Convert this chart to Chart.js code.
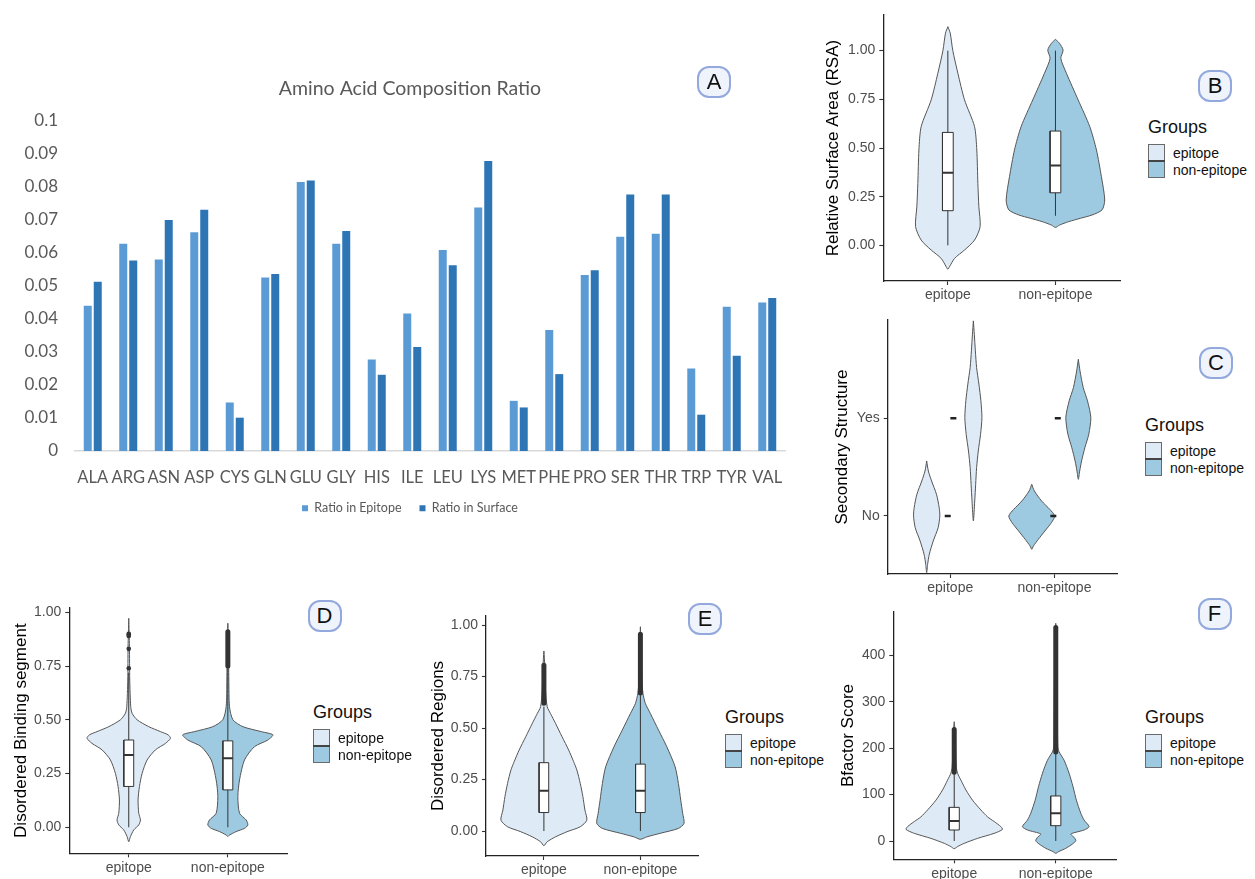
<!DOCTYPE html>
<html>
<head>
<meta charset="utf-8">
<script src="https://cdn.jsdelivr.net/npm/chart.js@4.4.1/dist/chart.umd.min.js"></script>
<style>
  body { margin:0; width:1255px; height:879px; position:relative; overflow:hidden; background:#fff; font-family:"Liberation Sans", Arial, sans-serif; }
  canvas { position:absolute; }
  .tag { position:absolute; width:30px; height:28px; border:2.5px solid #93a8dc; border-radius:12px; background:#eef3fc; color:#111; font-size:22px; line-height:28px; text-align:center; }
  .grp { position:absolute; color:#111; }
  .grp div { position:absolute; white-space:nowrap; }
</style>
</head>
<body>
<canvas id="cA"></canvas>
<canvas id="cB"></canvas>
<canvas id="cC"></canvas>
<canvas id="cD"></canvas>
<canvas id="cE"></canvas>
<canvas id="cF"></canvas>
<script>
// ---- panel A: amino acid composition
const AMINO = ['ALA','ARG','ASN','ASP','CYS','GLN','GLU','GLY','HIS','ILE','LEU','LYS','MET','PHE','PRO','SER','THR','TRP','TYR','VAL'];
const EPITOPE_RATIO = [0.0440,0.0628,0.0580,0.0663,0.0147,0.0526,0.0815,0.0628,0.0277,0.0417,0.0609,0.0738,0.0152,0.0367,0.0533,0.0649,0.0658,0.0250,0.0437,0.0450];
const SURFACE_RATIO = [0.0513,0.0577,0.0700,0.0731,0.0101,0.0536,0.0820,0.0667,0.0231,0.0315,0.0563,0.0879,0.0132,0.0233,0.0548,0.0777,0.0777,0.0110,0.0289,0.0464];

const GROUPS = ['epitope', 'non-epitope'];
const FILL_EPI = '#deebf7', FILL_NON = '#9ecae1';

// ---- panel B: relative surface area (violin outline: levels + half widths)
const RSA_EPI_Y = [1.123,1.09,1.00,0.884,0.747,0.61,0.49,0.318,0.2,0.096,0.027,-0.024,-0.067,-0.11,-0.123];
const RSA_EPI_W = [0,0.022,0.046,0.093,0.155,0.248,0.269,0.279,0.288,0.300,0.248,0.155,0.062,0.015,0];
const RSA_NON_Y = [1.058,1.038,1.003,0.96,0.884,0.747,0.61,0.49,0.353,0.233,0.182,0.156,0.139,0.122,0.104,0.092];
const RSA_NON_W = [0,0.037,0.071,0.05,0.102,0.211,0.319,0.381,0.427,0.458,0.433,0.340,0.232,0.124,0.037,0];
const RSA_BOX_EPI = [0, 0.178, 0.373, 0.58, 1.0];
const RSA_BOX_NON = [0.152, 0.27, 0.41, 0.587, 1.0];

// ---- panel C: secondary structure (No = 1, Yes = 2)
const SS_EPI_NO_Y = [1.563,1.46,1.358,1.222,1.085,1.0,0.88,0.744,0.608,0.505,0.42];
const SS_EPI_NO_W = [0,0.016,0.047,0.094,0.12,0.126,0.11,0.063,0.025,0.009,0];
const SS_EPI_YES_Y = [2.997,2.86,2.69,2.52,2.35,2.18,2.007,1.836,1.665,1.495,1.324,1.154,0.95];
const SS_EPI_YES_W = [0,0.009,0.019,0.031,0.053,0.072,0.082,0.069,0.047,0.031,0.022,0.013,0];
const SS_NON_NO_Y = [1.324,1.256,1.154,1.068,1.0,0.932,0.846,0.761,0.693,0.659];
const SS_NON_NO_W = [0,0.025,0.094,0.173,0.22,0.189,0.126,0.063,0.016,0];
const SS_NON_YES_Y = [2.604,2.485,2.314,2.178,2.007,1.836,1.70,1.563,1.46,1.375];
const SS_NON_YES_W = [0,0.016,0.047,0.088,0.12,0.1,0.063,0.031,0.013,0];
const SS_VIOLIN_X = [0.774, 1.222, 1.782, 2.229];
const SS_MEDIAN_X = [0.976, 1.03, 1.989, 2.032];
const SS_MEDIAN_Y = [1, 2, 1, 2];

// ---- panel D: disordered binding segment
const DBS_EPI_Y = [0.972,0.84,0.685,0.561,0.53,0.5,0.468,0.445,0.43,0.414,0.39,0.36,0.313,0.251,0.19,0.127,0.065,0.034,0.011,-0.012,-0.043,-0.067];
const DBS_EPI_W = [0,0.007,0.010,0.020,0.034,0.084,0.202,0.32,0.397,0.421,0.37,0.269,0.185,0.135,0.108,0.094,0.101,0.118,0.101,0.051,0.017,0];
const DBS_NON_Y = [0.949,0.84,0.685,0.561,0.5,0.468,0.445,0.43,0.406,0.375,0.313,0.22,0.143,0.065,0.034,0.011,-0.005,-0.02,-0.036,-0.043];
const DBS_NON_W = [0,0.007,0.010,0.017,0.051,0.152,0.337,0.455,0.404,0.269,0.168,0.118,0.101,0.118,0.185,0.202,0.168,0.084,0.017,0];
const DBS_BOX_EPI = [0, 0.19, 0.336, 0.406, 0.72];
const DBS_BOX_NON = [0, 0.174, 0.321, 0.402, 0.74];
const DBS_OUT_EPI = [0.74, 0.83, 0.89, 0.895, 0.9];
const DBS_BAND_NON = [0.75, 0.91];

// ---- panel E: disordered regions
const DR_EPI_Y = [0.874,0.798,0.684,0.604,0.571,0.523,0.458,0.393,0.337,0.296,0.231,0.167,0.102,0.053,0.021,-0.003,-0.028,-0.052,-0.071];
const DR_EPI_W = [0,0.010,0.017,0.034,0.068,0.12,0.188,0.257,0.308,0.342,0.377,0.404,0.425,0.445,0.377,0.24,0.12,0.034,0];
const DR_NON_Y = [0.992,0.895,0.733,0.668,0.62,0.571,0.49,0.409,0.312,0.231,0.15,0.086,0.037,0.013,-0.011,-0.028,-0.04];
const DR_NON_W = [0,0.007,0.014,0.027,0.051,0.103,0.188,0.274,0.36,0.394,0.418,0.438,0.452,0.394,0.205,0.068,0];
const DR_BOX_EPI = [0, 0.09, 0.196, 0.332, 0.604];
const DR_BOX_NON = [0, 0.09, 0.196, 0.325, 0.66];
const DR_BAND_EPI = [0.62, 0.805];
const DR_BAND_NON = [0.67, 0.955];

// ---- panel F: B-factor
const BF_EPI_Y = [257,239,203,160,146,131,110,88,67,52,42,31,25,16.5,5.7,-5,-12,-16.5];
const BF_EPI_W = [0,0.007,0.013,0.020,0.033,0.066,0.115,0.18,0.262,0.328,0.393,0.459,0.475,0.393,0.23,0.098,0.033,0];
const BF_NON_Y = [469,419,347,275,203,192,174,146,117,88,60,45,31,23.7,15.1,7.9,0.7,-6.5,-15.8,-23,-26.6];
const BF_NON_W = [0,0.010,0.013,0.016,0.020,0.033,0.082,0.131,0.17,0.203,0.246,0.279,0.328,0.279,0.148,0.18,0.197,0.164,0.098,0.026,0];
const BF_BOX_EPI = [0, 23.7, 43, 72.5, 146];
const BF_BOX_NON = [0, 33, 59.6, 97, 190];
const BF_BAND_EPI = [148, 240];
const BF_BAND_NON = [192, 460];

Chart.defaults.font.family = '"Liberation Sans", Arial, sans-serif';

function place(id, b) {
  const cv = document.getElementById(id);
  cv.width = b.w; cv.height = b.h;
  cv.style.left = b.x + 'px'; cv.style.top = b.y + 'px';
  return cv;
}

// panel A
new Chart(place('cA', {x:15, y:60, w:799, h:470}), {
  type: 'bar',
  data: { labels: AMINO, datasets: [
    { label: 'Ratio in Epitope', data: EPITOPE_RATIO, backgroundColor: '#5b9bd5', categoryPercentage: 0.563, barPercentage: 0.8 },
    { label: 'Ratio in Surface', data: SURFACE_RATIO, backgroundColor: '#2e75b6', categoryPercentage: 0.563, barPercentage: 0.8 }
  ] },
  options: {
    responsive: false, animation: false,
    layout: { padding: { left: 0, right: 9, top: 0, bottom: 5.5 } },
    plugins: {
      title: { display: true, text: 'Amino Acid Composition Ratio', color: '#595959',
               font: { family: 'Lato', size: 19.5, weight: 'normal' }, padding: { top: 17.3, bottom: 20.3 } },
      legend: { position: 'bottom', labels: { boxWidth: 6, boxHeight: 6, padding: 18, color: '#595959',
                font: { family: 'Lato', size: 12.5 } } },
      tooltip: { enabled: false }
    },
    scales: {
      x: { grid: { display: false, drawTicks: false }, border: { color: '#d9d9d9', width: 1.5 },
           ticks: { color: '#595959', font: { family: 'Lato', size: 16.5 }, padding: 16.6, maxRotation: 0, autoSkip: false },
           afterFit: s => { s.height = 33; } },
      y: { min: 0, max: 0.1, grid: { display: false, drawTicks: false }, border: { display: false },
           ticks: { stepSize: 0.01, color: '#595959', font: { family: 'Lato', size: 17 }, padding: 17,
                    callback: v => String(+v.toFixed(2)) },
           afterFit: s => { s.width = 60; } },
      // empty right-hand spacer so title and legend centre where the original does
      y2: { position: 'right', grid: { display: false, drawTicks: false }, border: { display: false },
            ticks: { display: false }, afterFit: s => { s.width = 20; } }
    }
  }
});

// violin helpers
function violin(cx, ys, ws, color) {
  const pts = ys.map((y, i) => ({ x: cx + ws[i], y }));
  for (let i = ys.length - 2; i >= 0; i--) pts.push({ x: cx - ws[i], y: ys[i] });
  return { data: pts, showLine: true, fill: 'shape', backgroundColor: color, borderColor: '#555',
           borderWidth: 1, pointRadius: 0, tension: 0.25, order: 5 };
}
function boxplot(cx, s) {
  const h = 0.05;
  return [
    { data: [{x:cx, y:s[0]}, {x:cx, y:s[4]}], showLine: true, borderColor: '#333', borderWidth: 1, pointRadius: 0, order: 4 },
    { data: [{x:cx-h, y:s[1]}, {x:cx+h, y:s[1]}, {x:cx+h, y:s[3]}, {x:cx-h, y:s[3]}, {x:cx-h, y:s[1]}],
      showLine: true, fill: 'shape', backgroundColor: '#fff', borderColor: '#333', borderWidth: 1, pointRadius: 0, order: 3 },
    { data: [{x:cx-h, y:s[2]}, {x:cx+h, y:s[2]}], showLine: true, borderColor: '#333', borderWidth: 2, pointRadius: 0, order: 2 }
  ];
}
function band(cx, r) {
  return { data: [{x:cx, y:r[0]}, {x:cx, y:r[1]}], showLine: true, borderColor: '#333', borderWidth: 5,
           borderCapStyle: 'round', pointRadius: 0, order: 1 };
}
function dots(cx, vals) {
  return { data: vals.map(y => ({x:cx, y})), showLine: false, pointRadius: 2.3, backgroundColor: '#333', borderWidth: 0, order: 0 };
}

function panel(id, box, area, o) {
  const axX = {
    type: 'linear', min: 0.4, max: 2.6,
    afterBuildTicks: s => { s.ticks = [1, 2].map(v => ({ value: v })); },
    afterFit: s => { s.height = box.y + box.h - area.b; },
    ticks: { callback: (v, i) => GROUPS[i], color: '#4d4d4d', font: { size: 14 }, padding: 2, maxRotation: 0, autoSkip: false },
    grid: { drawOnChartArea: false, tickLength: 4, tickColor: '#333', tickWidth: 1.1 },
    border: { color: '#222', width: 1.3 }
  };
  const axY = {
    type: 'linear', min: o.yr[0], max: o.yr[1],
    afterBuildTicks: s => { s.ticks = o.yt.map(v => ({ value: v })); },
    afterFit: s => { s.width = area.l - box.x; },
    ticks: { callback: o.yf, color: '#4d4d4d', font: { size: 14 }, padding: 4 },
    grid: { drawOnChartArea: false, tickLength: 4, tickColor: '#333', tickWidth: 1.1 },
    border: { color: '#222', width: 1.3 },
    title: { display: true, text: o.title, color: '#000', font: { size: 17 },
             padding: { top: o.tx - box.x - 10.2, bottom: 0 } }
  };
  new Chart(place(id, box), {
    type: 'scatter',
    data: { datasets: o.sets },
    options: {
      responsive: false, animation: false,
      layout: { padding: { left: 0, top: area.t - box.y, right: box.x + box.w - area.r, bottom: 0 } },
      plugins: { legend: { display: false }, tooltip: { enabled: false } },
      scales: { x: axX, y: axY }
    }
  });
}

const fix2 = v => v.toFixed(2);

panel('cB', {x:815, y:0, w:313, h:310}, {l:883.3, t:15, r:1120, b:281}, {
  yr: [-0.183, 1.183], yt: [0, 0.25, 0.5, 0.75, 1], yf: fix2, title: 'Relative Surface Area (RSA)', tx: 833,
  sets: [violin(1, RSA_EPI_Y, RSA_EPI_W, FILL_EPI), violin(2, RSA_NON_Y, RSA_NON_W, FILL_NON),
         ...boxplot(1, RSA_BOX_EPI), ...boxplot(2, RSA_BOX_NON)]
});

panel('cC', {x:815, y:305, w:310, h:295}, {l:887.7, t:320, r:1117, b:574}, {
  yr: [0.406, 3.006], yt: [1, 2], yf: (v, i) => ['No', 'Yes'][i], title: 'Secondary Structure', tx: 842,
  sets: [violin(SS_VIOLIN_X[0], SS_EPI_NO_Y, SS_EPI_NO_W, FILL_EPI),
         violin(SS_VIOLIN_X[1], SS_EPI_YES_Y, SS_EPI_YES_W, FILL_EPI),
         violin(SS_VIOLIN_X[2], SS_NON_NO_Y, SS_NON_NO_W, FILL_NON),
         violin(SS_VIOLIN_X[3], SS_NON_YES_Y, SS_NON_YES_W, FILL_NON),
         { data: SS_MEDIAN_X.map((x, i) => ({ x, y: SS_MEDIAN_Y[i] })), showLine: false, pointStyle: 'line',
           pointRadius: 3, borderColor: '#222', borderWidth: 2.5, order: 0 }]
});

panel('cD', {x:0, y:590, w:298, h:289}, {l:69.3, t:608, r:287.3, b:853.3}, {
  yr: [-0.121, 1.02], yt: [0, 0.25, 0.5, 0.75, 1], yf: fix2, title: 'Disordered Binding segment', tx: 21.7,
  sets: [violin(1, DBS_EPI_Y, DBS_EPI_W, FILL_EPI), violin(2, DBS_NON_Y, DBS_NON_W, FILL_NON),
         ...boxplot(1, DBS_BOX_EPI), ...boxplot(2, DBS_BOX_NON), dots(1, DBS_OUT_EPI), band(2, DBS_BAND_NON)]
});

panel('cE', {x:410, y:595, w:300, h:284}, {l:486, t:616, r:698.3, b:856}, {
  yr: [-0.121, 1.044], yt: [0, 0.25, 0.5, 0.75, 1], yf: fix2, title: 'Disordered Regions', tx: 438,
  sets: [violin(1, DR_EPI_Y, DR_EPI_W, FILL_EPI), violin(2, DR_NON_Y, DR_NON_W, FILL_NON),
         ...boxplot(1, DR_BOX_EPI), ...boxplot(2, DR_BOX_NON), band(1, DR_BAND_EPI), band(2, DR_BAND_NON)]
});

panel('cF', {x:830, y:597, w:298, h:282}, {l:893.3, t:611.7, r:1116.7, b:859.3}, {
  yr: [-39.4, 494], yt: [0, 100, 200, 300, 400], yf: v => String(v), title: 'Bfactor Score', tx: 848.3,
  sets: [violin(1, BF_EPI_Y, BF_EPI_W, FILL_EPI), violin(2, BF_NON_Y, BF_NON_W, FILL_NON),
         ...boxplot(1, BF_BOX_EPI), ...boxplot(2, BF_BOX_NON), band(1, BF_BAND_EPI), band(2, BF_BAND_NON)]
});

// legends ("Groups") and panel tags
function groupLegend(x, cy) {
  const g = document.createElement('div');
  g.className = 'grp';
  g.style.left = x + 'px'; g.style.top = (cy - 11) + 'px';
  let html = '<div style="left:0;top:0;font-size:18px;line-height:22px">Groups</div>';
  [FILL_EPI, FILL_NON].forEach((c, i) => {
    html += '<div style="left:0;top:' + (28 + i * 16.5) + 'px;width:15px;height:15.5px;border:1px solid #6a6a6a;background:' + c + '"></div>';
    html += '<div style="left:25px;top:' + (29 + i * 16.5) + 'px;font-size:14px;line-height:16px">' + GROUPS[i] + '</div>';
  });
  html += '<div style="left:0;top:43.5px;width:17px;height:2px;background:#444"></div>';
  g.innerHTML = html;
  document.body.appendChild(g);
}
groupLegend(1148, 127);
groupLegend(1145, 425);
groupLegend(313, 712);
groupLegend(725, 717);
groupLegend(1145, 717);

[['A', 714.5, 82.5], ['B', 1215.5, 86.5], ['C', 1216.5, 363.5], ['D', 325, 616.5], ['E', 705.5, 619], ['F', 1215, 614]]
  .forEach(([t, cx, cy]) => {
    const d = document.createElement('div');
    d.className = 'tag'; d.textContent = t;
    d.style.left = (cx - 17.5) + 'px'; d.style.top = (cy - 16.5) + 'px';
    document.body.appendChild(d);
  });
</script>
</body>
</html>
